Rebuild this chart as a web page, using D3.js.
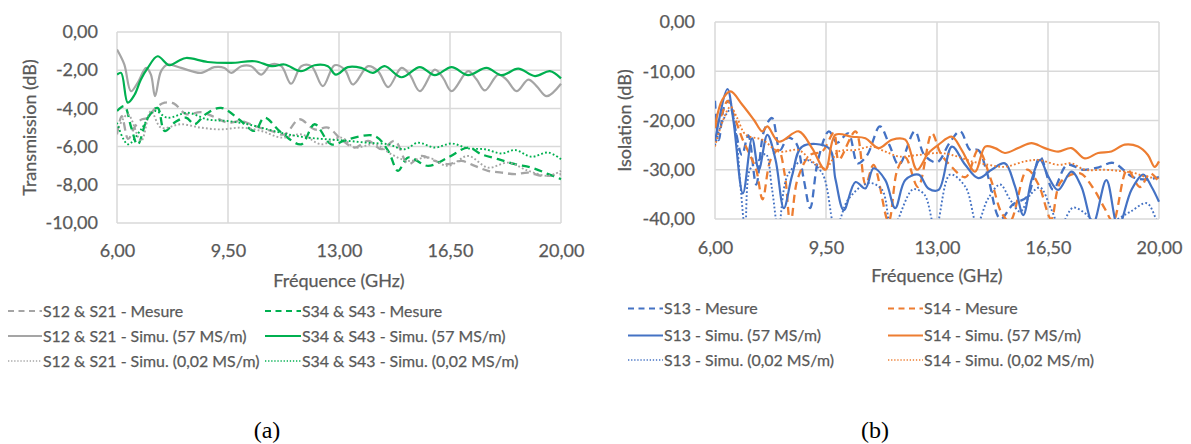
<!DOCTYPE html>
<html>
<head>
<meta charset="utf-8">
<script src="https://cdn.jsdelivr.net/npm/d3@7"></script>
<style>
  html, body { margin: 0; padding: 0; background: #fff; }
  svg { display: block; }
</style>
</head>
<body>
<svg id="chart" width="1191" height="444"></svg>
<script>
// ---------------- DATA ----------------
const xTicks = [6, 9.5, 13, 16.5, 20];
const yTicksA = [0, -2, -4, -6, -8, -10];
const yTicksB = [0, -10, -20, -30, -40];

// Chart (a) : Transmission (dB) vs Fréquence (GHz)  -- [GHz, dB]
const s12Mesure = [[6.00,-5.36],[6.15,-4.4],[6.35,-5.6],[6.55,-5.0],[6.75,-4.6],[6.95,-4.5],[7.20,-4.0],[7.50,-3.7],[7.80,-3.75],[8.18,-4.30],[8.65,-4.20],[9.07,-4.45],[9.50,-4.75],[9.92,-4.66],[10.34,-4.92],[10.86,-5.18],[11.28,-5.36],[11.75,-4.57],[12.23,-5.10],[12.65,-5.01],[13.07,-5.62],[13.49,-6.05],[13.92,-5.70],[14.34,-6.13],[14.76,-5.70],[15.18,-6.92],[15.60,-6.49],[16.02,-6.75],[16.44,-6.92],[16.86,-6.75],[17.28,-7.01],[17.70,-7.27],[18.13,-7.36],[18.55,-7.44],[18.97,-7.36],[19.39,-7.53],[20.00,-7.44]];
const s34Mesure = [[6.00,-4.14],[6.23,-3.88],[6.45,-5.0],[6.65,-5.90],[6.97,-4.49],[7.28,-3.97],[7.50,-5.18],[7.85,-4.70],[8.18,-4.49],[8.44,-4.83],[8.80,-4.3],[9.28,-3.97],[9.91,-4.66],[10.34,-5.18],[10.65,-4.49],[11.18,-5.27],[11.81,-5.88],[12.23,-4.83],[12.76,-5.88],[13.28,-5.62],[14.12,-5.44],[14.55,-6.22],[14.86,-7.27],[15.18,-6.57],[15.81,-7.01],[16.44,-6.57],[17.07,-6.05],[17.49,-6.40],[18.02,-6.66],[18.55,-6.92],[19.07,-7.10],[19.60,-7.44],[20.00,-7.70]];
const s12Sim57 = [[6.00,-0.92],[6.23,-1.70],[6.44,-3.10],[6.65,-2.66],[6.92,-1.88],[7.07,-2.23],[7.20,-3.36],[7.39,-2.05],[7.60,-1.70],[8.02,-1.88],[8.65,-2.14],[9.07,-1.84],[9.39,-1.88],[9.60,-2.14],[9.92,-1.79],[10.23,-1.79],[10.55,-2.23],[10.86,-1.70],[11.18,-1.79],[11.49,-2.71],[11.81,-1.79],[12.13,-1.79],[12.49,-2.83],[12.86,-1.74],[13.18,-1.97],[13.44,-2.75],[13.92,-1.79],[14.23,-2.05],[14.55,-2.89],[14.97,-1.88],[15.23,-2.23],[15.55,-3.10],[16.02,-1.97],[16.28,-2.40],[16.55,-3.10],[17.07,-2.05],[17.34,-2.49],[17.60,-3.06],[18.02,-2.23],[18.28,-2.49],[18.60,-3.10],[18.97,-2.49],[19.23,-2.83],[19.55,-3.36],[20.00,-2.71]];
const s34Sim57 = [[6.00,-2.23],[6.13,-2.14],[6.34,-3.70],[6.55,-3.3],[6.75,-2.5],[6.97,-1.88],[7.28,-1.27],[7.65,-1.74],[7.95,-1.50],[8.18,-1.36],[8.86,-1.57],[9.60,-1.62],[10.34,-1.53],[10.90,-1.79],[11.28,-1.70],[11.80,-2.05],[12.23,-1.74],[12.65,-1.79],[12.90,-2.23],[13.28,-1.84],[13.70,-1.88],[14.07,-2.14],[14.44,-1.79],[14.97,-2.37],[15.55,-1.84],[16.02,-2.26],[16.55,-1.84],[17.07,-2.26],[17.65,-1.88],[18.13,-2.26],[18.65,-1.92],[19.18,-2.31],[19.65,-2.05],[20.00,-2.43]];
const s12Sim002 = [[6.00,-5.18],[6.34,-4.31],[6.76,-5.70],[7.07,-4.14],[7.39,-5.01],[8.02,-4.83],[8.65,-5.01],[9.28,-5.10],[9.91,-5.01],[10.55,-5.18],[11.18,-5.53],[11.81,-5.36],[12.44,-5.88],[13.07,-5.53],[13.49,-6.05],[14.13,-5.88],[14.65,-6.40],[15.18,-6.75],[15.81,-6.57],[16.44,-7.01],[17.07,-6.49],[17.70,-7.10],[18.34,-6.84],[18.97,-7.27],[19.60,-7.53],[20.00,-7.27]];
const s34Sim002 = [[6.00,-4.75],[6.34,-5.88],[6.76,-5.10],[7.18,-4.14],[7.60,-4.49],[8.23,-4.23],[8.86,-4.58],[9.49,-4.66],[10.12,-4.83],[10.76,-5.10],[11.39,-5.36],[12.02,-5.53],[12.65,-5.62],[13.28,-5.70],[13.92,-5.80],[14.55,-5.88],[15.07,-6.14],[15.49,-5.80],[16.02,-6.05],[16.55,-5.84],[17.07,-6.09],[17.60,-6.14],[18.13,-6.36],[18.55,-6.18],[19.07,-6.53],[19.60,-6.31],[20.00,-6.66]];

// Chart (b) : Isolation (dB) vs Fréquence (GHz)  -- [GHz, dB]
const s13Mesure = [[6.00,-16.0],[6.12,-24.0],[6.30,-17.0],[6.45,-16.0],[6.65,-22.0],[6.85,-27.0],[7.05,-23.0],[7.30,-33.0],[7.55,-22.0],[7.80,-19.5],[8.05,-26.0],[8.30,-23.5],[8.55,-24.5],[8.80,-32.0],[9.00,-37.8],[9.25,-28.0],[9.59,-22.2],[9.85,-24.5],[10.20,-22.6],[10.50,-28.7],[10.80,-27.0],[11.20,-21.2],[11.50,-25.0],[11.80,-29.0],[12.30,-22.2],[12.60,-27.0],[13.00,-28.5],[13.40,-24.5],[13.73,-22.2],[14.05,-26.0],[14.30,-26.0],[14.58,-30.7],[15.00,-40.0],[15.40,-37.0],[15.84,-35.5],[16.25,-27.4],[16.66,-34.0],[17.10,-29.0],[17.60,-30.0],[18.10,-29.5],[18.55,-28.6],[19.18,-31.5],[19.62,-32.0],[20.00,-31.5]];
const s14Mesure = [[6.00,-21.5],[6.20,-19.0],[6.40,-16.0],[6.60,-19.0],[6.85,-23.5],[7.10,-27.0],[7.30,-30.0],[7.50,-36.0],[7.75,-28.0],[8.00,-26.0],[8.20,-31.0],[8.38,-41.0],[8.60,-32.0],[9.00,-27.0],[9.38,-26.3],[9.75,-22.5],[9.90,-28.0],[10.43,-22.2],[10.75,-33.0],[11.00,-29.0],[11.47,-40.5],[11.75,-30.0],[12.00,-27.5],[12.40,-33.5],[12.84,-22.6],[13.10,-26.5],[13.40,-29.0],[13.90,-31.5],[14.30,-26.0],[14.70,-32.0],[15.04,-38.8],[15.30,-40.5],[15.84,-30.0],[16.20,-33.0],[16.60,-40.0],[16.90,-32.5],[17.50,-30.7],[17.90,-33.5],[18.30,-38.0],[18.55,-40.5],[19.00,-30.0],[19.40,-33.5],[19.72,-30.7],[20.00,-32.5]];
const s13Sim57 = [[6.00,-24.3],[6.39,-13.6],[6.58,-20.0],[6.88,-34.8],[7.17,-23.6],[7.38,-30.0],[7.65,-22.9],[7.91,-28.0],[8.17,-37.8],[8.43,-31.2],[8.75,-25.3],[9.59,-25.6],[9.80,-32.0],[10.06,-38.2],[10.43,-32.5],[10.74,-33.8],[11.00,-29.7],[11.37,-32.1],[11.68,-37.8],[12.00,-32.1],[12.42,-31.0],[12.73,-33.8],[13.05,-34.1],[13.47,-25.3],[13.89,-29.0],[14.30,-31.7],[14.72,-30.0],[15.14,-28.7],[15.46,-33.4],[15.72,-39.2],[15.98,-32.1],[16.25,-28.0],[16.51,-31.4],[16.82,-34.1],[17.24,-30.4],[17.55,-33.4],[17.92,-40.9],[18.34,-32.1],[18.71,-41.6],[19.13,-34.1],[19.50,-31.0],[19.76,-33.4],[20.00,-36.5]];
const s14Sim57 = [[6.00,-21.2],[6.23,-15.8],[6.49,-14.1],[6.86,-16.8],[7.23,-19.9],[7.49,-22.2],[7.65,-21.2],[8.01,-24.3],[8.64,-22.2],[9.06,-25.6],[9.48,-30.0],[9.80,-22.9],[10.32,-23.3],[10.74,-23.6],[11.16,-25.6],[11.58,-23.9],[12.00,-23.9],[12.37,-30.0],[12.73,-26.6],[13.05,-24.9],[13.47,-23.3],[13.78,-26.0],[14.20,-30.4],[14.52,-25.3],[14.83,-25.6],[15.14,-26.6],[15.56,-25.6],[15.98,-24.6],[16.40,-25.6],[16.82,-26.3],[17.24,-25.6],[17.66,-27.7],[18.08,-26.6],[18.50,-26.3],[18.92,-24.9],[19.34,-25.3],[19.65,-27.0],[19.86,-29.4],[20.00,-28.3]];
const s13Sim002 = [[6.00,-25.0],[6.25,-20.0],[6.49,-17.8],[6.65,-22.0],[6.80,-33.0],[6.95,-42.0],[7.10,-30.0],[7.35,-28.3],[7.60,-26.8],[7.80,-34.0],[8.00,-42.0],[8.30,-31.0],[8.85,-28.0],[9.38,-30.7],[9.80,-42.0],[10.20,-36.0],[10.85,-32.7],[11.27,-34.1],[11.58,-42.0],[12.24,-34.0],[12.60,-35.0],[12.95,-42.0],[13.41,-31.0],[13.90,-33.5],[14.26,-41.0],[14.60,-36.0],[14.99,-33.0],[15.30,-36.0],[15.62,-38.5],[15.95,-35.0],[16.25,-33.6],[16.60,-38.0],[16.88,-41.5],[17.29,-37.7],[17.70,-39.0],[18.10,-41.5],[18.55,-40.5],[19.10,-38.5],[19.62,-36.8],[19.94,-40.5],[20.00,-41.0]];
const s14Sim002 = [[6.00,-25.3],[6.25,-20.0],[6.49,-17.2],[6.70,-19.5],[6.97,-22.9],[7.49,-23.9],[8.01,-26.3],[8.64,-26.0],[9.06,-28.3],[9.48,-29.7],[9.90,-26.3],[10.43,-26.0],[10.95,-25.3],[11.37,-26.3],[11.79,-27.3],[12.42,-27.0],[13.05,-26.6],[13.47,-27.0],[14.10,-28.3],[14.62,-29.0],[15.14,-29.4],[15.77,-28.3],[16.19,-28.0],[16.82,-29.0],[17.24,-28.7],[17.66,-30.0],[18.29,-30.0],[18.82,-30.3],[19.24,-30.7],[19.55,-31.4],[20.00,-31.7]];

// ---------------- STYLE ----------------
const FONT = "Lato, 'Open Sans', sans-serif";
const TXT = "#595959";
const GRID = "#d9d9d9";
const GRAY = "#a5a5a5", GREEN = "#00b050", BLUE = "#4472c4", ORANGE = "#ed7d31";
const DASH = { mesure: "8,5", sim57: null, sim002: "1.8,2.2" };
const LEGDASH = { mesure: "6,4.5", sim57: null, sim002: "1.3,1.8" };
const WIDTH = { mesure: 2.3, sim57: 2.2, sim002: 1.9 };

const fmt = v => d3.format(".2f")(v).replace(".", ",").replace("−", "-");

const svg = d3.select("#chart");

function styleText(sel, size) {
  sel.attr("font-family", FONT).attr("font-size", size).attr("fill", TXT)
     .attr("stroke", TXT).attr("stroke-width", 0.25);
}

function drawChart(cfg) {
  const g = svg.append("g");
  const x = d3.scaleLinear().domain([6, 20]).range([cfg.left, cfg.right]);
  const y = d3.scaleLinear().domain(cfg.yDomain).range([cfg.bottom, cfg.top]);

  // grid
  g.append("g").selectAll("line").data(cfg.yTicks).join("line")
    .attr("x1", cfg.left).attr("x2", cfg.right)
    .attr("y1", d => y(d)).attr("y2", d => y(d))
    .attr("stroke", GRID).attr("stroke-width", 1.5);
  g.append("g").selectAll("line").data(xTicks).join("line")
    .attr("x1", d => x(d)).attr("x2", d => x(d))
    .attr("y1", cfg.top).attr("y2", cfg.bottom)
    .attr("stroke", GRID).attr("stroke-width", 1.5);

  // axes labels via d3 axes
  const ya = d3.axisLeft(y).tickValues(cfg.yTicks).tickFormat(fmt).tickSize(0).tickPadding(0);
  const yg = g.append("g").attr("transform", `translate(${cfg.yLabelRight},0)`).call(ya);
  yg.select(".domain").remove();
  styleText(yg.selectAll("text"), 18);

  const xa = d3.axisBottom(x).tickValues(xTicks).tickFormat(fmt).tickSize(0).tickPadding(0);
  const xg = g.append("g").attr("transform", `translate(0,${cfg.xLabelY})`).call(xa);
  xg.select(".domain").remove();
  styleText(xg.selectAll("text"), 18);
  xg.selectAll("text").attr("dy", "0.35em");

  // titles
  styleText(g.append("text").attr("x", (cfg.left + cfg.right) / 2).attr("y", cfg.xTitleY)
    .attr("text-anchor", "middle").attr("dy", "0.35em")
    .text("Fréquence (GHz)"), 18);
  styleText(g.append("text")
    .attr("transform", `translate(${cfg.yTitleX},${(cfg.top + cfg.bottom) / 2}) rotate(-90)`)
    .attr("text-anchor", "middle").attr("dy", "0.35em")
    .text(cfg.yTitle), 18);

  // clip
  const clipId = "clip-" + cfg.id;
  svg.append("clipPath").attr("id", clipId).append("rect")
    .attr("x", cfg.left).attr("y", cfg.top - 2)
    .attr("width", cfg.right - cfg.left + 2).attr("height", cfg.bottom - cfg.top + 2);

  const line = d3.line().x(d => x(d[0])).y(d => y(d[1])).curve(d3.curveCatmullRom.alpha(0.5));
  const pg = g.append("g").attr("clip-path", `url(#${clipId})`);
  cfg.series.forEach(s => {
    pg.append("path").datum(s.data)
      .attr("d", line)
      .attr("fill", "none")
      .attr("stroke", s.color)
      .attr("stroke-width", WIDTH[s.kind])
      .attr("stroke-dasharray", DASH[s.kind])
      .attr("stroke-linejoin", "round")
      .attr("stroke-linecap", "butt");
  });

  // legend
  const lg = g.append("g");
  cfg.series.forEach((s, i) => {
    const col = i % 2, row = Math.floor(i / 2);
    const sx = cfg.legend.swatchX[col], sw = cfg.legend.swatchW[col];
    const yy = cfg.legend.rows[row];
    lg.append("line").attr("x1", sx).attr("x2", sx + sw).attr("y1", yy).attr("y2", yy)
      .attr("stroke", s.color).attr("stroke-width", s.kind === "sim002" ? 1.4 : 2)
      .attr("stroke-dasharray", LEGDASH[s.kind]);
    styleText(lg.append("text").attr("x", sx + sw + 1).attr("y", yy).attr("dy", "0.35em")
      .text(s.name), 15.9);
  });

  // caption
  svg.append("text").attr("x", cfg.caption[0]).attr("y", cfg.caption[1])
    .attr("text-anchor", "middle").attr("dy", "0.35em")
    .attr("font-family", "'Liberation Serif', 'DejaVu Serif', serif").attr("font-size", 24)
    .attr("fill", "#000").text(cfg.captionText);
}

drawChart({
  id: "a", left: 117, right: 561, top: 32, bottom: 223,
  yDomain: [-10, 0], yTicks: yTicksA,
  yLabelRight: 98, xLabelY: 251, xTitleY: 281, yTitleX: 30,
  yTitle: "Transmission (dB)",
  series: [
    { name: "S12 & S21 - Mesure", data: s12Mesure, color: GRAY, kind: "mesure" },
    { name: "S34 & S43 - Mesure", data: s34Mesure, color: GREEN, kind: "mesure" },
    { name: "S12 & S21 - Simu. (57 MS/m)", data: s12Sim57, color: GRAY, kind: "sim57" },
    { name: "S34 & S43 - Simu. (57 MS/m)", data: s34Sim57, color: GREEN, kind: "sim57" },
    { name: "S12 & S21 - Simu. (0,02 MS/m)", data: s12Sim002, color: GRAY, kind: "sim002" },
    { name: "S34 & S43 - Simu. (0,02 MS/m)", data: s34Sim002, color: GREEN, kind: "sim002" }
  ],
  legend: { swatchX: [8, 265], swatchW: [34, 36], rows: [311, 336, 361] },
  caption: [267, 430], captionText: "(a)"
});

drawChart({
  id: "b", left: 715, right: 1159, top: 22, bottom: 219,
  yDomain: [-40, 0], yTicks: yTicksB,
  yLabelRight: 695, xLabelY: 248, xTitleY: 276, yTitleX: 625,
  yTitle: "Isolation (dB)",
  series: [
    { name: "S13 - Mesure", data: s13Mesure, color: BLUE, kind: "mesure" },
    { name: "S14 - Mesure", data: s14Mesure, color: ORANGE, kind: "mesure" },
    { name: "S13 - Simu. (57 MS/m)", data: s13Sim57, color: BLUE, kind: "sim57" },
    { name: "S14 - Simu. (57 MS/m)", data: s14Sim57, color: ORANGE, kind: "sim57" },
    { name: "S13 - Simu. (0,02 MS/m)", data: s13Sim002, color: BLUE, kind: "sim002" },
    { name: "S14 - Simu. (0,02 MS/m)", data: s14Sim002, color: ORANGE, kind: "sim002" }
  ],
  legend: { swatchX: [628, 888], swatchW: [35, 35], rows: [308.5, 335.5, 360] },
  caption: [875, 430], captionText: "(b)"
});
</script>
</body>
</html>
